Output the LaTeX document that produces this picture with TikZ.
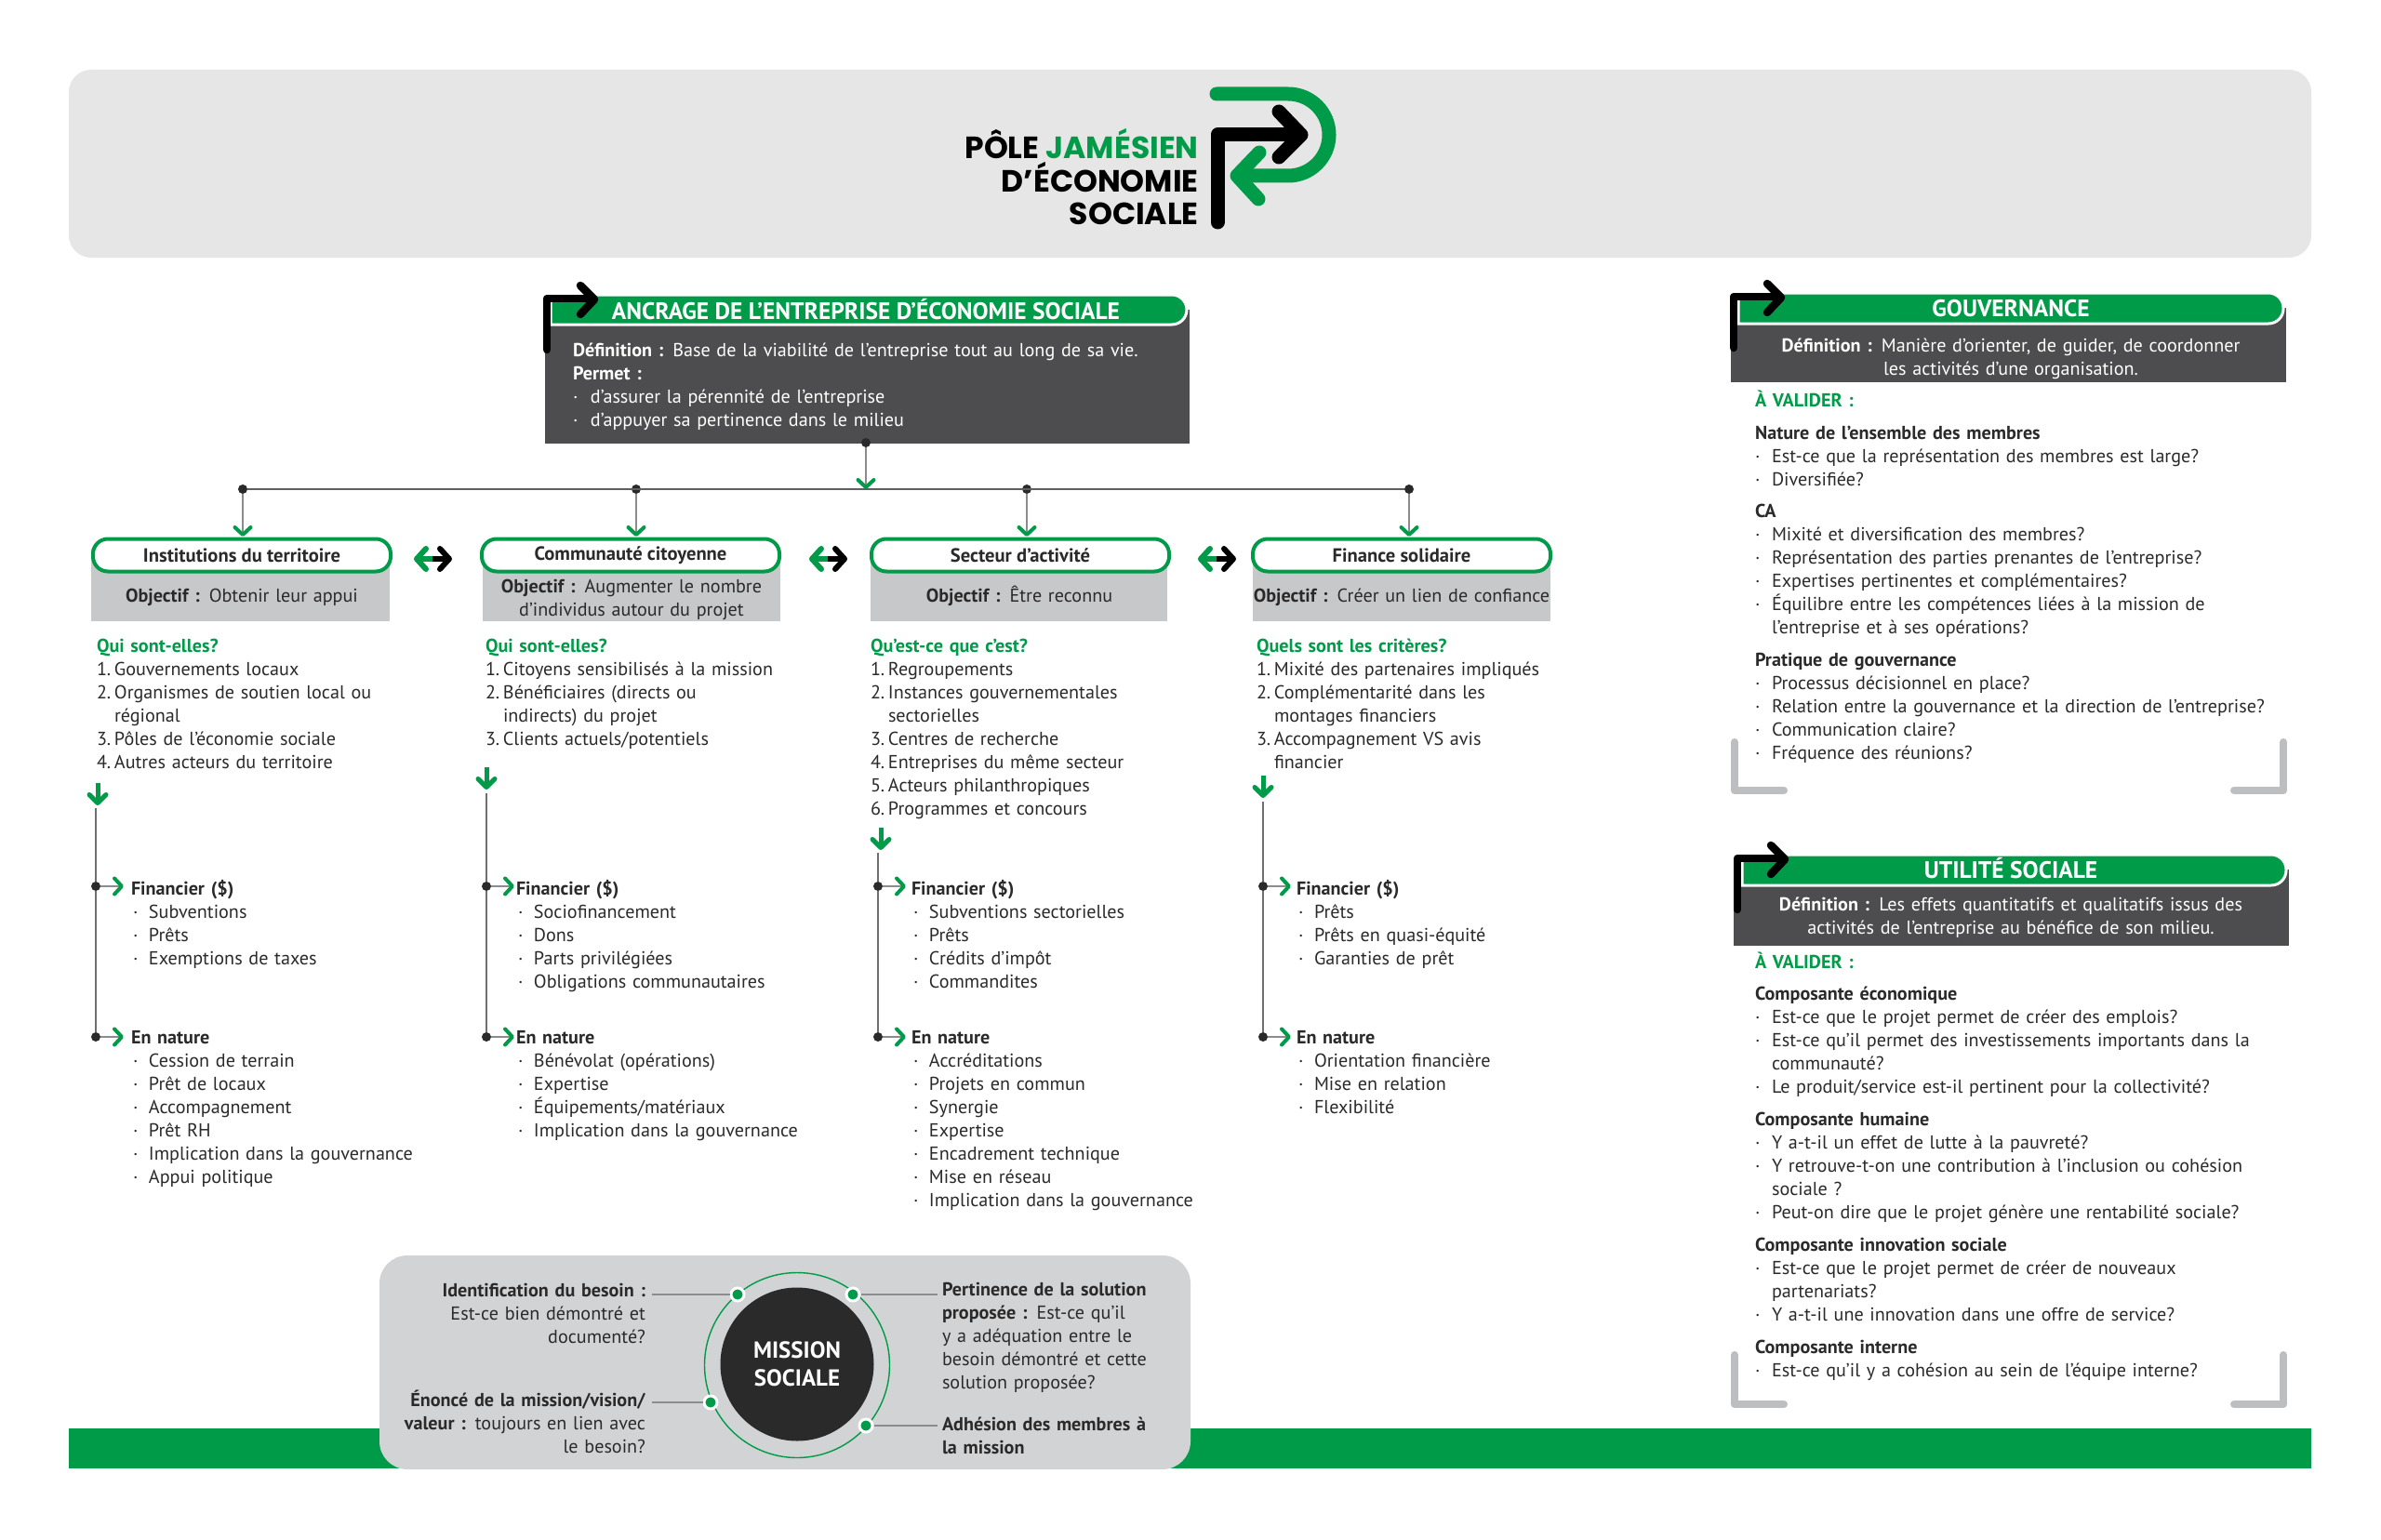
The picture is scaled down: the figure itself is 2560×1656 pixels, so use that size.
\documentclass[tikz,border=0pt]{standalone}
\usepackage{fontspec}
\setmainfont{PT Sans}
\newfontfamily\logofont{Poppins}
\usetikzlibrary{arrows.meta,calc}
\definecolor{pj}{HTML}{009B48}
\definecolor{ink}{HTML}{2B2A2B}
\definecolor{darkbox}{HTML}{4D4D4F}
\definecolor{midbox}{HTML}{C7C8CA}
\definecolor{missionbox}{HTML}{D1D3D4}
\definecolor{headbox}{HTML}{E6E6E6}
\definecolor{linegray}{HTML}{8A8C8E}
\definecolor{cornergray}{HTML}{BCBEC0}
\newcommand\numb[1]{\makebox[19pt][l]{#1}}
\newcommand\bul{\makebox[18pt][l]{·}}
\newcommand\hng{\hspace*{18pt}}
\newcommand\numhang{\hspace*{19pt}}
\newcommand\grn[1]{{\color{pj}\bfseries #1}}
\newcommand\sbul{\makebox[19pt][l]{\hspace{2pt}·}}
\tikzset{
  txt/.style={anchor=base west,inner sep=0pt,outer sep=0pt,align=left,text width=640pt,text=ink,font=\fontsize{20.15}{25.1}\selectfont},
  whitetxt/.style={txt,text=white},
  ctr/.style={anchor=base,inner sep=0pt,outer sep=0pt,align=center,text width=#1,text=ink,font=\fontsize{20.15}{25}\selectfont},
  rgt/.style={anchor=base east,inner sep=0pt,outer sep=0pt,align=right,text width=300pt,text=ink,font=\fontsize{20.15}{25.1}\selectfont},
  title/.style={anchor=base,inner sep=0pt,text=white,font=\fontsize{25.5}{28}\selectfont\bfseries},
  pill/.style={draw=pj,fill=white,line width=4pt,rounded corners=16pt,minimum height=35pt,minimum width=320pt,inner sep=0pt,text=ink,font=\fontsize{20.6}{24}\selectfont\bfseries},
  dot/.style={circle,fill=ink,inner sep=0pt,minimum size=10pt},
  hline/.style={draw=ink!75,line width=1.3pt},
  link/.style={draw=linegray,line width=1.6pt,-{Straight Barb[color=pj,length=8pt,width=17pt,line width=4pt,round]}},
  sublink/.style={draw=linegray,line width=1.6pt,-{Straight Barb[color=pj,length=8pt,width=17pt,line width=4pt,round]}},
  stem/.style={draw=linegray!70!ink,line width=1.5pt},
  bigdown/.style={draw=pj,line width=5pt,-{Straight Barb[length=9pt,width=18pt,round]}},
  leftbig/.style={draw=pj,line width=6pt,-{Straight Barb[length=10pt,width=22pt,round]}},
  rightbig/.style={draw=black,line width=6pt,-{Straight Barb[length=10pt,width=22pt,round]}},
  blk/.style={draw=black,line width=8.5pt,line cap=round,line join=round},
  corner/.style={draw=cornergray,line width=8pt,line cap=round,line join=round},
  logogreen/.style={draw=pj,line width=15pt,line cap=round,line join=round},
  logoblack/.style={draw=black,line width=15pt,line cap=round,line join=round},
  spoke/.style={draw=linegray,line width=2pt},
  sdot/.style={circle,fill=pj,draw=white,line width=3pt,inner sep=0pt,minimum size=14pt},
  logotxt/.style={anchor=base east,inner sep=0pt,font=\fontsize{33}{36}\logofont\bfseries,align=right},
}
% x, y of the corner of the black arrow
\newcommand\blackarrow[2]{
  \draw[blk] (#1,#2+55) -- (#1,#2) -- (#1+49,#2);
  \draw[blk] (#1+36,#2-14) -- (#1+51,#2+1) -- (#1+36,#2+17);
}
% pill x1,x2, y1,y2
\newcommand\headpill[4]{
  \path[fill=pj,draw=white,line width=3pt] (#1,#3) [rounded corners=16pt] -- (#2,#3) -- (#2,#4) [sharp corners] -- (#1,#4) -- cycle;
}
\begin{document}
\begin{tikzpicture}[x=1pt,y=-1pt]
\useasboundingbox (0,0) rectangle (2560,1656);
\fill[white] (0,0) rectangle (2560,1656);

% header
\fill[headbox,rounded corners=24pt] (74,75) rectangle (2485,277);
\node[logotxt] (logoa) at (1289,171) {PÔLE \textcolor{pj}{JAMÉSIEN}};
\node[logotxt] (logob) at (1289,207) {D’ÉCONOMIE};
\node[logotxt] (logoc) at (1289,242) {SOCIALE};
\draw[logogreen] (1308,101) -- (1385,101) arc (-90:90:44) -- (1332,189);
\draw[logogreen] (1354,164) -- (1330,189) -- (1353,214);
\draw[logoblack] (1309,239) -- (1309,145) -- (1396,145);
\draw[logoblack] (1375,120) -- (1399,145) -- (1375,169);

% bottom band
\fill[pj] (74,1536) rectangle (2485,1579);

% ancrage
\fill[darkbox] (586,333) rectangle (1279,477);
\headpill{592}{1276}{317}{349}
\node[title] (anctitle) at (931,343) {ANCRAGE DE L’ENTREPRISE D’ÉCONOMIE SOCIALE};
\blackarrow{588}{321}
\node[whitetxt] (ancbody) at (616,383) {\textbf{Définition :} Base de la viabilité de l'entreprise tout au long de sa vie.\\\textbf{Permet :}\\\makebox[19pt][l]{·}d'assurer la pérennité de l'entreprise\\\makebox[19pt][l]{·}d'appuyer sa pertinence dans le milieu};

% distribution
\node[dot] (da) at (931,476) {};
\node[dot] (d1) at (261,526) {};
\node[dot] (d2) at (684,526) {};
\node[dot] (d3) at (1104,526) {};
\node[dot] (d4) at (1515,526) {};
\draw[hline] (d1) -- (d4);
\coordinate (ajunction) at (931,526);
\draw[link] (da) -- (ajunction);
\coordinate (t1) at (261,577); \coordinate (t2) at (684,577); \coordinate (t3) at (1104,577); \coordinate (t4) at (1515,577);
\draw[link] (d1) -- (t1);
\draw[link] (d2) -- (t2);
\draw[link] (d3) -- (t3);
\draw[link] (d4) -- (t4);

% objective boxes
\fill[midbox] (98,590) rectangle (419,668);
\fill[midbox] (519,590) rectangle (839,668);
\fill[midbox] (936,590) rectangle (1255,668);
\fill[midbox] (1347,590) rectangle (1667,668);
\node[pill] (p1) at (260,597) {Institutions du territoire};
\node[pill] (p2) at (678,597) {Communauté citoyenne};
\node[pill] (p3) at (1097,597) {Secteur d'activité};
\node[pill] (p4) at (1507,597) {Finance solidaire};
\node[ctr=340pt] (o1) at (260,647) {\textbf{Objectif :} Obtenir leur appui};
\node[ctr=340pt] (o2) at (679,637) {\textbf{Objectif :} Augmenter le nombre\\d'individus autour du projet};
\node[ctr=340pt] (o3) at (1096,647) {\textbf{Objectif :} Être reconnu};
\node[ctr=340pt] (o4) at (1507,647) {\textbf{Objectif :} Créer un lien de confiance};

% double arrows
\foreach \n/\m in {1/465,2/890,3/1308}{
  \coordinate (dm\n) at (\m,601);
  \coordinate (dl\n) at (\m-20,601);
  \coordinate (dr\n) at (\m+21,601);
  \draw[leftbig] (dm\n) -- (dl\n);
  \draw[rightbig] (dm\n) -- (dr\n);
}

% column texts
\node[txt] (c1) at (104,701) {\grn{Qui sont-elles?}\\\numb{1.}Gouvernements locaux\\\numb{2.}Organismes de soutien local ou\\\numhang régional\\\numb{3.}Pôles de l'économie sociale\\\numb{4.}Autres acteurs du territoire};
\node[txt] (c2) at (522,701) {\grn{Qui sont-elles?}\\\numb{1.}Citoyens sensibilisés à la mission\\\numb{2.}Bénéficiaires (directs ou\\\numhang indirects) du projet\\\numb{3.}Clients actuels/potentiels};
\node[txt] (c3) at (936,701) {\grn{Qu'est-ce que c'est?}\\\numb{1.}Regroupements\\\numb{2.}Instances gouvernementales\\\numhang sectorielles\\\numb{3.}Centres de recherche\\\numb{4.}Entreprises du même secteur\\\numb{5.}Acteurs philanthropiques\\\numb{6.}Programmes et concours};
\node[txt] (c4) at (1351,701) {\grn{Quels sont les critères?}\\\numb{1.}Mixité des partenaires impliqués\\\numb{2.}Complémentarité dans les\\\numhang montages financiers\\\numb{3.}Accompagnement VS avis\\\numhang financier};

% vertical trees
\foreach \n/\ax/\ay/\lx/\ly/\tip in {1/105/842/103/869/133,2/523/825/523/853/553,3/947/890/944/917/974,4/1358/834/1358/862/1388}{
  \coordinate (gs\n) at (\ax,\ay);
  \coordinate (ge\n) at (\ax,\ay+24);
  \draw[bigdown] (gs\n) -- (ge\n);
  \coordinate (vt\n) at (\lx,\ly);
  \node[dot] (fa\n) at (\lx,953) {};
  \node[dot] (nb\n) at (\lx,1115) {};
  \draw[stem] (vt\n) -- (fa\n) -- (nb\n);
  \coordinate (fe\n) at (\tip,953);
  \coordinate (ne\n) at (\tip,1115);
  \draw[sublink] (fa\n) -- (fe\n);
  \draw[sublink] (nb\n) -- (ne\n);
}

% financier
\node[txt] (f1) at (141,962) {\textbf{Financier (\$)}\\\sbul Subventions\\\sbul Prêts\\\sbul Exemptions de taxes};
\node[txt] (f2) at (555,962) {\textbf{Financier (\$)}\\\sbul Sociofinancement\\\sbul Dons\\\sbul Parts privilégiées\\\sbul Obligations communautaires};
\node[txt] (f3) at (980,962) {\textbf{Financier (\$)}\\\sbul Subventions sectorielles\\\sbul Prêts\\\sbul Crédits d'impôt\\\sbul Commandites};
\node[txt] (f4) at (1394,962) {\textbf{Financier (\$)}\\\sbul Prêts\\\sbul Prêts en quasi-équité\\\sbul Garanties de prêt};

% en nature
\node[txt] (n1) at (141,1122) {\textbf{En nature}\\\sbul Cession de terrain\\\sbul Prêt de locaux\\\sbul Accompagnement\\\sbul Prêt RH\\\sbul Implication dans la gouvernance\\\sbul Appui politique};
\node[txt] (n2) at (555,1122) {\textbf{En nature}\\\sbul Bénévolat (opérations)\\\sbul Expertise\\\sbul Équipements/matériaux\\\sbul Implication dans la gouvernance};
\node[txt] (n3) at (980,1122) {\textbf{En nature}\\\sbul Accréditations\\\sbul Projets en commun\\\sbul Synergie\\\sbul Expertise\\\sbul Encadrement technique\\\sbul Mise en réseau\\\sbul Implication dans la gouvernance};
\node[txt] (n4) at (1394,1122) {\textbf{En nature}\\\sbul Orientation financière\\\sbul Mise en relation\\\sbul Flexibilité};

% mission
\fill[missionbox,rounded corners=30pt] (408,1350) rectangle (1280,1580);
\node[circle,draw=pj,line width=1.4pt,minimum size=199pt,inner sep=0pt] (ring) at (857,1468) {};
\node[circle,fill=ink,minimum size=165pt,inner sep=0pt,align=center,text=white,font=\fontsize{25}{30}\selectfont\bfseries] (mc) at (857,1467) {MISSION\\SOCIALE};
\node[sdot] (s1) at (793,1392) {};
\node[sdot] (s2) at (917,1392) {};
\node[sdot] (s3) at (764,1508) {};
\node[sdot] (s4) at (931,1533) {};
\coordinate (e1) at (701,1392); \coordinate (e2) at (1008,1392); \coordinate (e3) at (701,1508); \coordinate (e4) at (1008,1533);
\draw[spoke] (s1) -- (e1);
\draw[spoke] (s2) -- (e2);
\draw[spoke] (s3) -- (e3);
\draw[spoke] (s4) -- (e4);
\node[rgt] (m1) at (694,1394) {\textbf{Identification du besoin :}\\Est-ce bien démontré et\\documenté?};
\node[rgt] (m3) at (694,1512) {\textbf{Énoncé de la mission/vision/}\\\textbf{valeur :} toujours en lien avec\\le besoin?};
\node[txt,text width=300pt] (m2) at (1013,1393) {\textbf{Pertinence de la solution}\\\textbf{proposée :} Est-ce qu'il\\y a adéquation entre le\\besoin démontré et cette\\solution proposée?};
\node[txt,text width=300pt] (m4) at (1013,1538) {\textbf{Adhésion des membres à}\\\textbf{la mission}};

% gouvernance
\fill[darkbox] (1861,331) rectangle (2458,411);
\headpill{1869}{2455}{315}{348}
\node[title] (gtitle) at (2162,340) {GOUVERNANCE};
\blackarrow{1864}{319}
\node[ctr=590pt,text=white] (gdef) at (2162,378) {\textbf{Définition :} Manière d'orienter, de guider, de coordonner\\les activités d'une organisation.};
\node[txt] (gval) at (1887,437) {\grn{À VALIDER :}};
\node[txt] (g1) at (1887,472) {\textbf{Nature de l'ensemble des membres}\\\bul Est-ce que la représentation des membres est large?\\\bul Diversifiée?};
\node[txt] (g2) at (1887,556) {\textbf{CA}\\\bul Mixité et diversification des membres?\\\bul Représentation des parties prenantes de l'entreprise?\\\bul Expertises pertinentes et complémentaires?\\\bul Équilibre entre les compétences liées à la mission de\\\hng l'entreprise et à ses opérations?};
\node[txt] (g3) at (1887,716) {\textbf{Pratique de gouvernance}\\\bul Processus décisionnel en place?\\\bul Relation entre la gouvernance et la direction de l'entreprise?\\\bul Communication claire?\\\bul Fréquence des réunions?};
\draw[corner] (1865,798) -- (1865,850) -- (1918,850);
\draw[corner] (2455,798) -- (2455,850) -- (2402,850);

% utilite
\fill[darkbox] (1864,935) rectangle (2461,1017);
\headpill{1873}{2458}{919}{952}
\node[title] (utitle) at (2162,944) {UTILITÉ SOCIALE};
\blackarrow{1868}{923}
\node[ctr=590pt,text=white] (udef) at (2162,979) {\textbf{Définition :} Les effets quantitatifs et qualitatifs issus des\\activités de l'entreprise au bénéfice de son milieu.};
\node[txt] (uval) at (1887,1041) {\grn{À VALIDER :}};
\node[txt] (u1) at (1887,1075) {\textbf{Composante économique}\\\bul Est-ce que le projet permet de créer des emplois?\\\bul Est-ce qu'il permet des investissements importants dans la\\\hng communauté?\\\bul Le produit/service est-il pertinent pour la collectivité?};
\node[txt] (u2) at (1887,1210) {\textbf{Composante humaine}\\\bul Y a-t-il un effet de lutte à la pauvreté?\\\bul Y retrouve-t-on une contribution à l'inclusion ou cohésion\\\hng sociale ?\\\bul Peut-on dire que le projet génère une rentabilité sociale?};
\node[txt] (u3) at (1887,1345) {\textbf{Composante innovation sociale}\\\bul Est-ce que le projet permet de créer de nouveaux\\\hng partenariats?\\\bul Y a-t-il une innovation dans une offre de service?};
\node[txt] (u4) at (1887,1455) {\textbf{Composante interne}\\\bul Est-ce qu'il y a cohésion au sein de l'équipe interne?};
\draw[corner] (1865,1457) -- (1865,1510) -- (1918,1510);
\draw[corner] (2455,1457) -- (2455,1510) -- (2402,1510);
\end{tikzpicture}
\end{document}
